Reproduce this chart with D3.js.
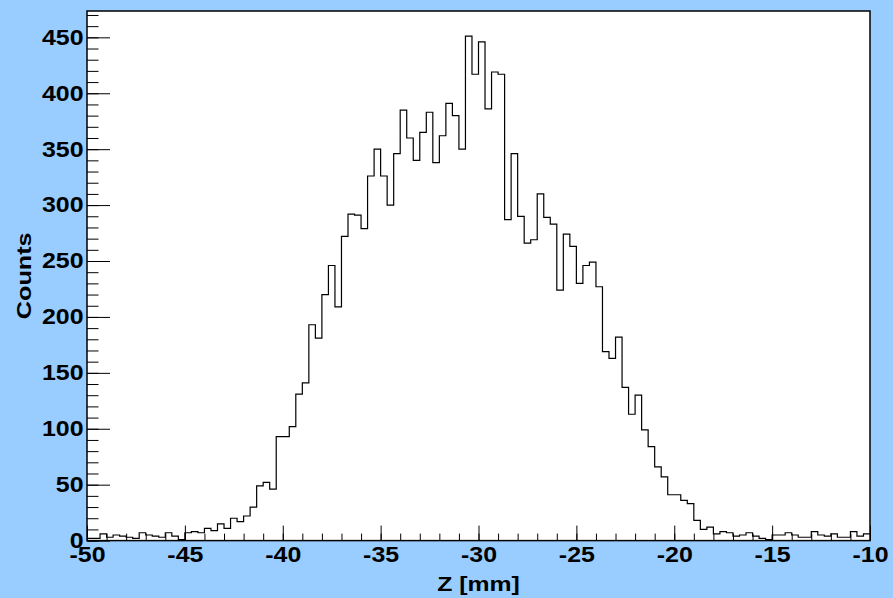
<!DOCTYPE html>
<html>
<head>
<meta charset="utf-8">
<script src="https://cdn.jsdelivr.net/npm/d3@7"></script>
<style>
  html, body { margin: 0; padding: 0; background: #99ccff; }
  svg { display: block; }
  text { font-family: "Liberation Sans", Arial, Helvetica, sans-serif; font-weight: bold; }
</style>
</head>
<body>
<div id="chart"></div>
<script>
// histogram: 120 bins from -50 to -10 mm
var xMin = -50, xMax = -10, nBins = 120;
var counts = [
    2, 2, 6, 3, 5, 4, 3, 2, 7, 5,
    4, 3, 7, 4, 1, 7, 8, 7, 11, 9,
    15, 11, 20, 17, 22, 30, 49, 52, 46, 93,
    93, 102, 131, 141, 193, 181, 220, 246, 209, 272,
    292, 291, 279, 326, 350, 326, 300, 346, 385, 360,
    340, 365, 383, 338, 362, 391, 380, 350, 451, 417,
    446, 386, 419, 417, 287, 346, 290, 266, 269, 310,
    289, 283, 224, 274, 263, 230, 246, 249, 227, 169,
    163, 182, 137, 113, 130, 99, 84, 66, 57, 41,
    41, 36, 33, 18, 10, 12, 6, 8, 7, 4,
    5, 7, 4, 2, 1, 5, 5, 7, 5, 3,
    3, 8, 5, 4, 6, 3, 3, 8, 4, 6
];
var xTicks = d3.range(-50, -9, 5);
var xMinorTicks = d3.range(-50, -9, 1);
var yTicks = d3.range(0, 451, 50);
var yMinorTicks = d3.range(0, 471, 10);
var xTitle = "Z [mm]";
var yTitle = "Counts";

var width = 893, height = 598;
var padLeft = 87, padRight = 870, padTop = 11, padBottom = 540.6;
var stretch = 1.16;

var binWidth = (xMax - xMin) / nBins;
var points = counts.map(function (c, i) { return [xMin + i * binWidth, c]; });
points.push([xMax, counts[counts.length - 1]]);

var x = d3.scaleLinear().domain([xMin, xMax]).range([padLeft, padRight]);
var y = d3.scaleLinear().domain([0, d3.max(counts) * 1.05]).range([padBottom, padTop]);

var svg = d3.select("#chart").append("svg")
    .attr("width", width)
    .attr("height", height);

svg.append("rect")
    .attr("width", width)
    .attr("height", height)
    .attr("fill", "#99ccff");

svg.append("rect")
    .attr("x", padLeft)
    .attr("y", padTop)
    .attr("width", padRight - padLeft)
    .attr("height", padBottom - padTop)
    .attr("fill", "white");

// minor ticks
svg.append("g")
    .attr("transform", "translate(0," + padBottom + ")")
    .call(d3.axisBottom(x).tickValues(xMinorTicks).tickSize(-7).tickFormat(""));
svg.append("g")
    .attr("transform", "translate(" + padLeft + ",0)")
    .call(d3.axisLeft(y).tickValues(yMinorTicks).tickSize(-11.5).tickFormat(""));

// major ticks with labels
var xAxis = svg.append("g")
    .attr("transform", "translate(0," + padBottom + ")")
    .call(d3.axisBottom(x).tickValues(xTicks).tickSize(-15).tickPadding(7).tickFormat(d3.format("d")));
var yAxis = svg.append("g")
    .attr("transform", "translate(" + padLeft + ",0)")
    .call(d3.axisLeft(y).tickValues(yTicks).tickSize(-23).tickPadding(3).tickFormat(d3.format("d")));

svg.selectAll(".domain").remove();
svg.selectAll(".tick line").attr("stroke", "black").attr("stroke-width", 1);
svg.selectAll(".tick text")
    .attr("font-size", "21.5px")
    .attr("font-family", "Liberation Sans, Arial, sans-serif")
    .attr("font-weight", "bold")
    .attr("fill", "black")
    .attr("transform", "scale(" + stretch + ",1)");
xAxis.selectAll(".tick text")
    .attr("dy", "0.68em")
    .text(function (d) { return d3.format("d")(d).replace("−", "-"); });

// histogram outline
var line = d3.line()
    .x(function (d) { return x(d[0]); })
    .y(function (d) { return y(d[1]); })
    .curve(d3.curveStepAfter);

svg.append("path")
    .datum(points)
    .attr("d", line)
    .attr("fill", "none")
    .attr("stroke", "black")
    .attr("stroke-width", 1.2);

// frame
svg.append("rect")
    .attr("x", padLeft)
    .attr("y", padTop)
    .attr("width", padRight - padLeft)
    .attr("height", padBottom - padTop)
    .attr("fill", "none")
    .attr("stroke", "black")
    .attr("stroke-width", 1.5);

// titles
svg.append("text")
    .attr("transform", "translate(" + (padLeft + padRight) / 2 + ",591) scale(1.18,1)")
    .attr("text-anchor", "middle")
    .attr("font-size", "21px")
    .text(xTitle);

svg.append("text")
    .attr("transform", "translate(31," + (padTop + padBottom) / 2 + ") rotate(-90) scale(1.2,1)")
    .attr("text-anchor", "middle")
    .attr("font-size", "21px")
    .text(yTitle);
</script>
</body>
</html>
